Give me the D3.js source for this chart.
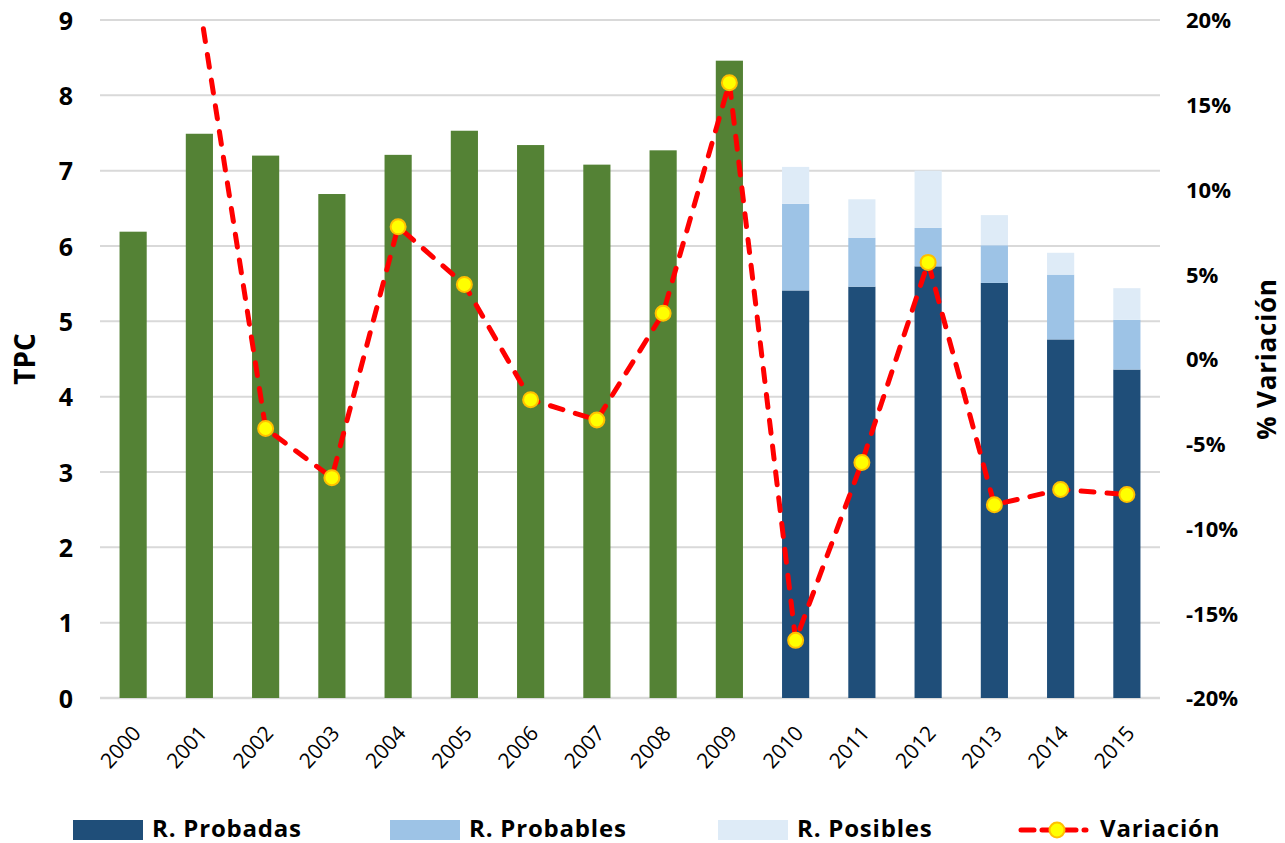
<!DOCTYPE html>
<html><head><meta charset="utf-8">
<script src="https://cdn.jsdelivr.net/npm/d3@7/dist/d3.min.js"></script>
<style>body{margin:0;background:#fff}svg{display:block}</style>
</head><body>
<svg id="chart" width="1285" height="843"></svg>
<script>
const years = ["2000","2001","2002","2003","2004","2005","2006","2007","2008","2009","2010","2011","2012","2013","2014","2015"];
// Total TPC 2000-2009 (single green series)
const totalTPC = [6.19,7.49,7.20,6.69,7.21,7.53,7.34,7.08,7.27,8.46,null,null,null,null,null,null];
// 2010-2015 stacked components
const probadas  = [null,null,null,null,null,null,null,null,null,null,5.41,5.46,5.73,5.51,4.76,4.36];
const probables = [null,null,null,null,null,null,null,null,null,null,1.15,0.65,0.51,0.50,0.86,0.66];
const posibles  = [null,null,null,null,null,null,null,null,null,null,0.49,0.51,0.76,0.40,0.29,0.42];
// % variation
const variacion = [null,21.0,-4.1,-7.0,7.8,4.4,-2.4,-3.6,2.7,16.3,-16.6,-6.1,5.7,-8.6,-7.7,-8.0];
const leftTicks = [0,1,2,3,4,5,6,7,8,9];
const rightTicks = [-20,-15,-10,-5,0,5,10,15,20];
const legendLabels = ["R. Probadas","R. Probables","R. Posibles","Variación"];

const colors = {green:"#548235", probadas:"#1F4E79", probables:"#9DC3E6", posibles:"#DEEBF7", grid:"#D9D9D9", line:"#FF0000", marker:"#FFFF00", markerStroke:"#FFC000"};
const FONT = "'Open Sans', 'DejaVu Sans', sans-serif";

const svg = d3.select("#chart");
const L = 100, R = 1160, T = 20, B = 698;

const x = d3.scaleBand().domain(years).range([L, R]).paddingInner(0.59).paddingOuter(0.295);
const y = d3.scaleLinear().domain([0, 9]).range([B, T]);
const y2 = d3.scaleLinear().domain([-20, 20]).range([B, T]);

// gridlines
svg.append("g").selectAll("line").data(leftTicks).join("line")
  .attr("x1", L).attr("x2", R)
  .attr("y1", d => y(d)).attr("y2", d => y(d))
  .attr("stroke", colors.grid).attr("stroke-width", d => d === 0 ? 2.5 : 2);

// left axis
const yAxis = d3.axisLeft(y).tickValues(leftTicks).tickSize(0).tickPadding(0).tickFormat(d3.format("d"));
const gy = svg.append("g").attr("transform", `translate(${L - 27},0)`).call(yAxis);
gy.select(".domain").remove();
gy.selectAll("text").attr("font-family", FONT).attr("font-weight", "bold").attr("font-size", 25).attr("fill", "#000").attr("dy", "0.36em");

// right axis
const y2Axis = d3.axisRight(y2).tickValues(rightTicks).tickSize(0).tickPadding(0).tickFormat(d => d + "%");
const gy2 = svg.append("g").attr("transform", `translate(${R + 26},0)`).call(y2Axis);
gy2.select(".domain").remove();
gy2.selectAll("text").attr("font-family", FONT).attr("font-weight", "bold").attr("font-size", 22).attr("fill", "#000").attr("dy", "0.36em");

// x axis labels
const xAxis = d3.axisBottom(x).tickSize(0).tickPadding(0);
const gx = svg.append("g").attr("transform", `translate(0,${B})`).call(xAxis);
gx.select(".domain").remove();
gx.selectAll("text")
  .attr("font-family", FONT)
  .attr("font-size", 21).attr("fill", "#000")
  .attr("text-anchor", "end").attr("dy", 0)
  .attr("transform", "translate(9,36) rotate(-48)");

// green bars
svg.append("g").selectAll("rect").data(years.map((yr, i) => ({yr, v: totalTPC[i]})).filter(d => d.v != null)).join("rect")
  .attr("x", d => x(d.yr)).attr("width", x.bandwidth())
  .attr("y", d => y(d.v)).attr("height", d => y(0) - y(d.v))
  .attr("fill", colors.green);

// stacked bars
const stackData = years.map((yr, i) => ({yr, probadas: probadas[i], probables: probables[i], posibles: posibles[i]})).filter(d => d.probadas != null);
const stack = d3.stack().keys(["probadas","probables","posibles"])(stackData);
svg.append("g").selectAll("g").data(stack).join("g")
  .attr("fill", d => colors[d.key])
  .selectAll("rect").data(d => d).join("rect")
  .attr("x", d => x(d.data.yr)).attr("width", x.bandwidth())
  .attr("y", d => y(d[1])).attr("height", d => y(d[0]) - y(d[1]));

// variation line
svg.append("clipPath").attr("id", "plotclip").append("rect")
  .attr("x", L).attr("y", T).attr("width", R - L).attr("height", B - T);
const lineData = years.map((yr, i) => ({yr, v: variacion[i]})).filter(d => d.v != null);
const line = d3.line().x(d => x(d.yr) + x.bandwidth() / 2).y(d => y2(d.v));
svg.append("path").datum(lineData)
  .attr("clip-path", "url(#plotclip)")
  .attr("d", line).attr("fill", "none")
  .attr("stroke", colors.line).attr("stroke-width", 5)
  .attr("stroke-dasharray", "13,13").attr("stroke-linecap", "round").attr("stroke-linejoin", "round");
svg.append("g").selectAll("circle").data(lineData.filter(d => d.v <= 20 && d.v >= -20)).join("circle")
  .attr("cx", d => x(d.yr) + x.bandwidth() / 2).attr("cy", d => y2(d.v))
  .attr("r", 7.5).attr("fill", colors.marker).attr("stroke", colors.markerStroke).attr("stroke-width", 2);

// axis titles
svg.append("text").attr("transform", `translate(35,${(T + B) / 2}) rotate(-90)`)
  .attr("text-anchor", "middle").attr("font-family", FONT).attr("font-weight", "bold").attr("font-size", 28).text("TPC");
svg.append("text").attr("transform", `translate(1276,${(T + B) / 2}) rotate(-90)`)
  .attr("text-anchor", "middle").attr("font-family", FONT).attr("font-weight", "bold").attr("font-size", 26).attr("letter-spacing", 0.8).text("% Variación");

// legend
const legX = [73, 390, 718];
const legKeys = ["probadas","probables","posibles"];
const lg = svg.append("g");
legKeys.forEach((k, i) => {
  lg.append("rect").attr("x", legX[i]).attr("y", 820).attr("width", 70).attr("height", 20).attr("fill", colors[k]);
  lg.append("text").attr("x", legX[i] + 79).attr("y", 837)
    .attr("font-family", FONT).attr("font-weight", "bold").attr("font-size", 24).attr("letter-spacing", 0.8).text(legendLabels[i]);
});
lg.append("line").attr("x1", 1021).attr("x2", 1086).attr("y1", 830).attr("y2", 830)
  .attr("stroke", colors.line).attr("stroke-width", 5).attr("stroke-dasharray", "13,8").attr("stroke-linecap", "round");
lg.append("circle").attr("cx", 1057).attr("cy", 830).attr("r", 7.5).attr("fill", colors.marker).attr("stroke", colors.markerStroke).attr("stroke-width", 2);
lg.append("text").attr("x", 1100).attr("y", 837)
  .attr("font-family", FONT).attr("font-weight", "bold").attr("font-size", 24).attr("letter-spacing", 0.8).text(legendLabels[3]);
</script>
</body></html>
